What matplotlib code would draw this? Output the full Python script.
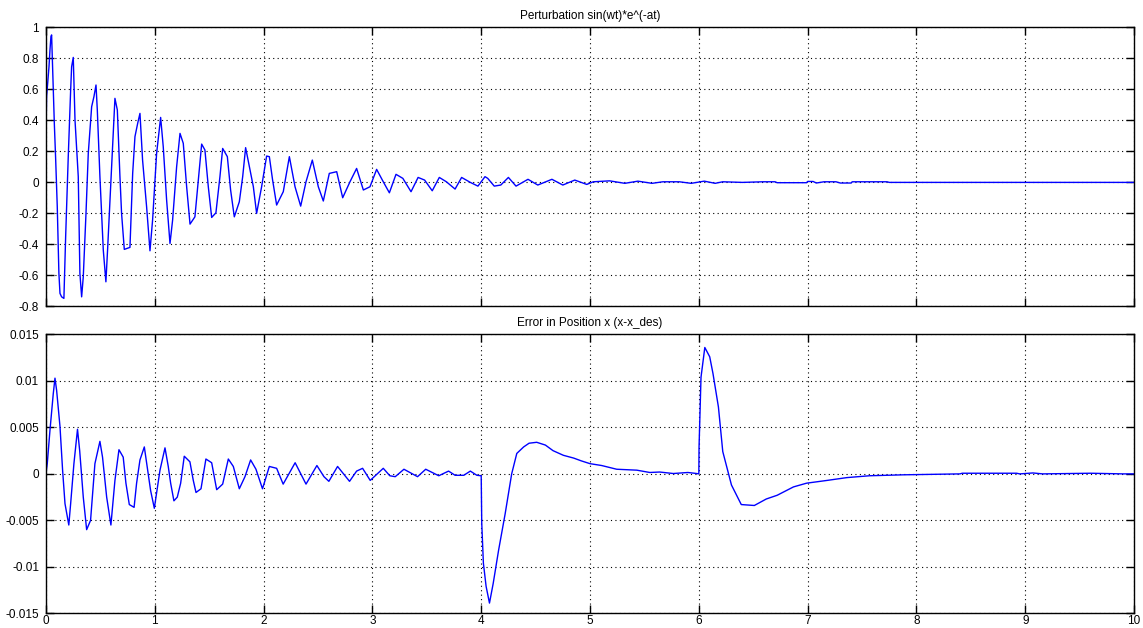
import matplotlib
matplotlib.use("Agg")
import matplotlib.pyplot as plt
from matplotlib.ticker import FuncFormatter

plt.rcParams['font.family'] = ['Liberation Sans', 'DejaVu Sans']
plt.rcParams['axes.unicode_minus'] = False

# ---- Top: perturbation signal vertices ----
t_pert = [0.000, 0.006, 0.028, 0.037, 0.046, 0.052, 0.077, 0.089, 0.104, 0.119, 0.129, 0.144,
          0.165, 0.181, 0.205, 0.227, 0.236, 0.251, 0.267, 0.297, 0.312, 0.328, 0.343, 0.368,
          0.389, 0.420, 0.441, 0.460, 0.472, 0.496, 0.527, 0.551, 0.567, 0.604, 0.634, 0.656,
          0.680, 0.695, 0.720, 0.772, 0.797, 0.818, 0.843, 0.864, 0.888, 0.925, 0.956, 0.980,
          1.017, 1.054, 1.078, 1.109, 1.140, 1.164, 1.201, 1.232, 1.262, 1.293, 1.324, 1.369,
          1.400, 1.431, 1.461, 1.492, 1.523, 1.562, 1.599, 1.624, 1.667, 1.697, 1.731, 1.777,
          1.808, 1.835, 1.875, 1.906, 1.936, 1.982, 2.028, 2.053, 2.083, 2.120, 2.181, 2.237,
          2.289, 2.341, 2.390, 2.448, 2.503, 2.549, 2.604, 2.672, 2.727, 2.794, 2.855, 2.917,
          2.978, 3.039, 3.100, 3.156, 3.217, 3.280, 3.355, 3.420, 3.480, 3.550, 3.615, 3.680,
          3.760, 3.820, 3.900, 3.970, 4.035, 4.060, 4.120, 4.180, 4.250, 4.320, 4.430, 4.520,
          4.650, 4.750, 4.860, 4.970, 5.030, 5.180, 5.320, 5.440, 5.570, 5.670, 5.820, 5.930,
          6.050, 6.150, 6.220, 6.400, 6.590, 6.700, 6.720, 6.990, 7.000, 7.050, 7.080, 7.150,
          7.260, 7.300, 7.400, 7.410, 7.730, 7.750, 10.000]
y_pert = [0.295, 0.553, 0.746, 0.854, 0.940, 0.951, 0.380, 0.155, -0.157, -0.587, -0.716, -0.738,
          -0.748, -0.351, 0.166, 0.596, 0.746, 0.806, 0.402, 0.037, -0.587, -0.738, -0.609, -0.200,
          0.187, 0.488, 0.553, 0.628, 0.467, 0.037, -0.437, -0.641, -0.426, 0.101, 0.542, 0.467,
          0.037, -0.200, -0.432, -0.419, 0.058, 0.295, 0.381, 0.445, 0.144, -0.157, -0.441, -0.243,
          0.187, 0.419, 0.230, -0.114, -0.394, -0.243, 0.101, 0.316, 0.252, -0.028, -0.269, -0.222,
          0.015, 0.247, 0.209, -0.028, -0.226, -0.196, 0.037, 0.219, 0.166, -0.049, -0.222, -0.125,
          0.037, 0.224, 0.080, -0.028, -0.200, -0.028, 0.170, 0.166, 0.015, -0.146, -0.060, 0.166,
          -0.028, -0.153, 0.004, 0.144, -0.028, -0.120, 0.058, 0.069, -0.099, 0.004, 0.090, -0.049,
          -0.028, 0.084, 0.004, -0.067, 0.052, 0.026, -0.060, 0.032, 0.015, -0.054, 0.032, 0.004,
          -0.043, 0.032, 0.000, -0.024, 0.037, 0.026, -0.024, -0.017, 0.032, -0.024, 0.020, -0.017,
          0.020, -0.017, 0.015, -0.013, 0.004, 0.010, -0.006, 0.008, -0.006, 0.004, 0.004, -0.006,
          0.008, -0.006, 0.004, 0.000, 0.004, 0.004, -0.002, -0.002, 0.006, 0.006, -0.004, 0.004,
          0.004, -0.004, -0.004, 0.004, 0.004, 0.000, 0.000]

# ---- Bottom: position error vertices ----
t_err = [0.000, 0.012, 0.037, 0.067, 0.083, 0.098, 0.129, 0.153, 0.175, 0.210, 0.227, 0.257,
         0.290, 0.310, 0.343, 0.374, 0.410, 0.450, 0.496, 0.520, 0.558, 0.597, 0.634, 0.671,
         0.710, 0.735, 0.766, 0.810, 0.833, 0.864, 0.904, 0.930, 0.962, 0.996, 1.048, 1.094,
         1.124, 1.146, 1.176, 1.207, 1.238, 1.271, 1.323, 1.354, 1.379, 1.425, 1.470, 1.523,
         1.569, 1.624, 1.676, 1.722, 1.777, 1.829, 1.881, 1.930, 1.990, 2.053, 2.120, 2.180,
         2.290, 2.390, 2.490, 2.555, 2.600, 2.680, 2.790, 2.855, 2.910, 2.980, 3.100, 3.160,
         3.210, 3.290, 3.415, 3.490, 3.610, 3.700, 3.760, 3.840, 3.900, 3.960, 4.000, 4.005,
         4.020, 4.045, 4.076, 4.110, 4.160, 4.220, 4.280, 4.327, 4.390, 4.440, 4.510, 4.590,
         4.660, 4.755, 4.850, 4.920, 5.000, 5.107, 5.245, 5.430, 5.550, 5.640, 5.765, 5.900,
         5.980, 6.000, 6.002, 6.020, 6.055, 6.100, 6.130, 6.180, 6.220, 6.300, 6.390, 6.510,
         6.620, 6.720, 6.870, 6.990, 7.180, 7.360, 7.570, 7.880, 8.400, 8.420, 8.920, 8.950,
         9.070, 9.160, 9.600, 9.900, 10.000]
y_err = [0.0, 0.0011, 0.0047, 0.0086, 0.0103, 0.0090, 0.0051, 0.0004, -0.0032, -0.0055, -0.0032, 0.0011,
         0.0048, 0.0025, -0.0025, -0.0060, -0.0050, 0.0011, 0.0035, 0.0018, -0.0025, -0.0055, -0.0007, 0.0026,
         0.0018, -0.0010, -0.0033, -0.0036, -0.0010, 0.0015, 0.0029, 0.0008, -0.0018, -0.0037, 0.0004, 0.0028,
         0.0008, -0.0010, -0.0029, -0.0025, -0.0010, 0.0019, 0.0013, -0.0007, -0.0020, -0.0016, 0.0016, 0.0012,
         -0.0017, -0.0011, 0.0016, 0.0008, -0.0016, -0.0003, 0.0015, 0.0005, -0.0016, 0.0008, 0.0006, -0.0011,
         0.0012, -0.0011, 0.0009, -0.0003, -0.0008, 0.0008, -0.0008, 0.0003, 0.0006, -0.0007, 0.0006, -0.0002,
         -0.0003, 0.0005, -0.0003, 0.0005, -0.0002, 0.0003, -0.00015, -0.00015, 0.0003, -0.00015, -0.0002, -0.0053,
         -0.0096, -0.0121, -0.0139, -0.0118, -0.0082, -0.0043, 0.0, 0.0022, 0.0029, 0.0033, 0.0034, 0.0031,
         0.0025, 0.0020, 0.0017, 0.0014, 0.0011, 0.0009, 0.0005, 0.0004, 0.00015, 0.0002, 0.00004, 0.00015,
         0.00004, 0.0, 0.0029, 0.0104, 0.0136, 0.0126, 0.0108, 0.0072, 0.0024, -0.0012, -0.0033, -0.0034,
         -0.0027, -0.0023, -0.0014, -0.0010, -0.0007, -0.0004, -0.0002, -0.0001, 0.0, 0.00007, 0.00007, 0.0,
         0.0001, 0.0, 0.00007, 0.0, 0.0]

top_yticks = [-0.8, -0.6, -0.4, -0.2, 0, 0.2, 0.4, 0.6, 0.8, 1]
bot_yticks = [-0.015, -0.01, -0.005, 0, 0.005, 0.01, 0.015]
xticks = list(range(0, 11))

titles = ["Perturbation sin(wt)*e^(-at)", "Error in Position x (x-x_des)"]

fig = plt.figure(figsize=(11.43, 6.28), dpi=100, facecolor='white')
ax1 = fig.add_axes([0.0402, 0.512, 0.952, 0.4445])
ax2 = fig.add_axes([0.0402, 0.0234, 0.952, 0.4440])

gfmt = FuncFormatter(lambda v, p: ('%g' % round(v, 6)))

for ax, t, y, yt, ttl in [(ax1, t_pert, y_pert, top_yticks, titles[0]),
                          (ax2, t_err, y_err, bot_yticks, titles[1])]:
    ax.plot(t, y, color='#0000ff', lw=1.0)
    ax.set_xlim(0, 10)
    ax.set_ylim(yt[0], yt[-1])
    ax.set_xticks(xticks)
    ax.set_yticks(yt)
    ax.xaxis.set_major_formatter(gfmt)
    ax.yaxis.set_major_formatter(gfmt)
    ax.grid(True, linestyle=(0, (1, 3)), color='black', lw=0.8)
    ax.tick_params(direction='in', length=6, width=1, top=True, right=True,
                   labelsize=8.5, colors='black')
    ax.tick_params(axis='y', pad=5)
    ax.tick_params(axis='x', pad=1.5)
    for s in ax.spines.values():
        s.set_linewidth(1.0)
        s.set_color('black')
    ax.set_title(ttl, fontsize=8.5, pad=6)

ax1.tick_params(labelbottom=False)

fig.savefig("out.png", dpi=100, facecolor='white')
